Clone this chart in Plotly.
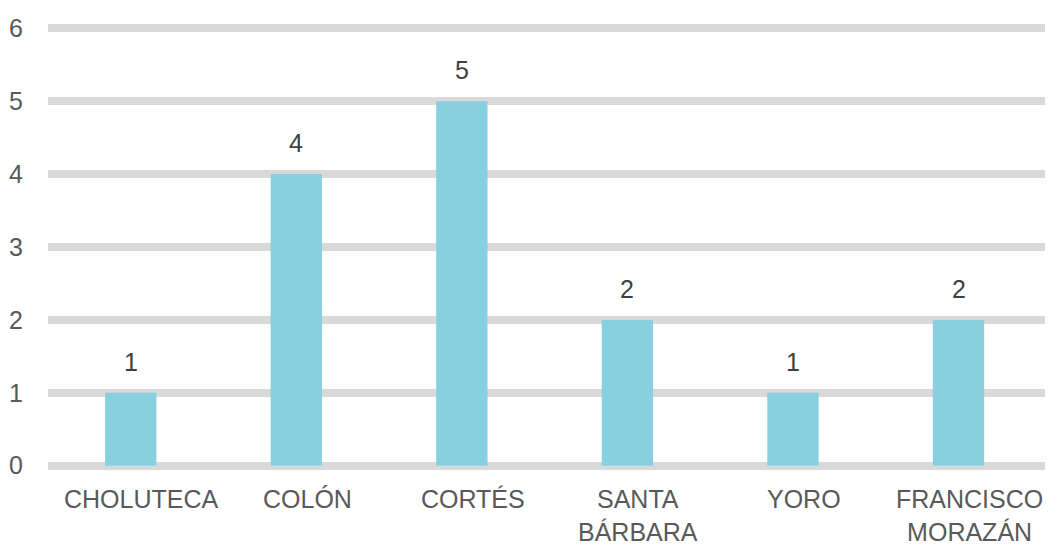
import plotly.graph_objects as go

categories = ["CHOLUTECA", "COLÓN", "CORTÉS", "SANTA<br>BÁRBARA", "YORO", "FRANCISCO<br>MORAZÁN"]
values = [1, 4, 5, 2, 1, 2]
y_ticks = [0, 1, 2, 3, 4, 5, 6]

fig = go.Figure()
fig.add_trace(go.Bar(
    x=categories, y=values,
    marker=dict(color="#88CFE0", line=dict(width=0)),
    width=0.31,
))
for c, v in zip(categories, values):
    fig.add_annotation(x=c, y=v, text=str(v), showarrow=False, yanchor="bottom",
                       yshift=15, font=dict(size=25, color="#404040"))
    # category labels (slightly offset to the right as in the reference)
    fig.add_annotation(x=c, y=0, yref="paper", text=c, showarrow=False, yanchor="top",
                       xanchor="center", xshift=11, yshift=-13,
                       font=dict(size=25, color="#595959"))

fig.update_layout(
    width=1059, height=546,
    margin=dict(l=48, r=14, t=24, b=76),
    plot_bgcolor="white", paper_bgcolor="white",
    font=dict(family="Liberation Sans, Arial, sans-serif", size=25, color="#595959"),
    showlegend=False,
)
fig.update_yaxes(range=[-0.06, 6.06], tickvals=y_ticks, showgrid=True, gridcolor="#D9D9D9",
                 gridwidth=8, zeroline=False, showline=False, ticks="", automargin=False,
                 ticklabelstandoff=24, tickfont=dict(size=25, color="#595959"))
fig.update_xaxes(showgrid=False, showline=False, ticks="", showticklabels=False, automargin=False)

fig.write_html("out.html", config={"displayModeBar": False},
               post_script="document.body.style.margin='0';document.body.style.overflow='hidden';")
